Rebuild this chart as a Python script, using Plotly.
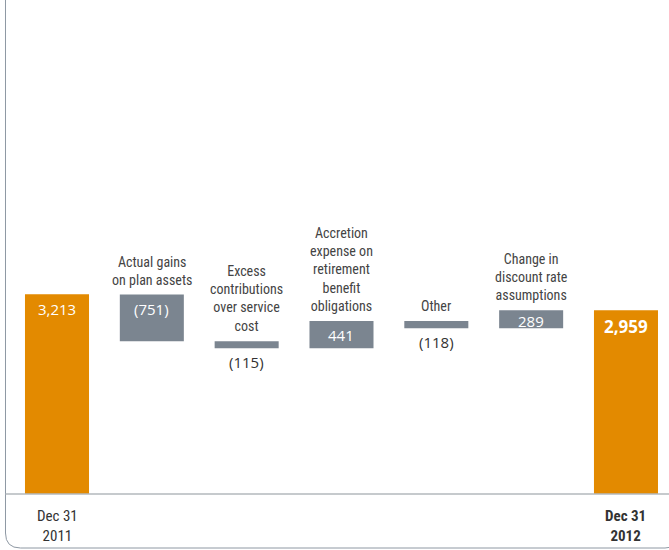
import plotly.graph_objects as go

# ---- data ----
categories = ["Dec 31 2011", "Actual gains on plan assets", "Excess contributions over service cost",
              "Accretion expense on retirement benefit obligations", "Other",
              "Change in discount rate assumptions", "Dec 31 2012"]
values = [3213, -751, -115, 441, -118, 289, 2959]
measures = ["absolute", "relative", "relative", "relative", "relative", "relative", "total"]
value_labels = ["3,213", "(751)", "(115)", "441", "(118)", "289", "2,959"]
category_labels = ["", "Actual gains<br>on plan assets", "Excess<br>contributions<br>over service<br>cost",
                   "Accretion<br>expense on<br>retirement<br>benefit<br>obligations", "Other",
                   "Change in<br>discount rate<br>assumptions", ""]
tick_labels = ["Dec 31<br>2011", "", "", "", "", "", "<b>Dec 31<br>2012</b>"]

W, H = 669, 550
ORANGE = "#E38A00"
GRAY = "#7B8590"
NARROW = "Roboto Condensed, sans-serif"
WIDE = "Open Sans, Noto Sans, sans-serif"

xs = list(range(len(categories)))

# compute bar extents from data
tops, bottoms = [], []
run = 0
for v, m in zip(values, measures):
    if m == "absolute":
        run = v
        tops.append(v); bottoms.append(0)
    elif m == "total":
        tops.append(run); bottoms.append(0)
    else:
        start = run
        run += v
        tops.append(max(start, run)); bottoms.append(min(start, run))

fig = go.Figure(go.Waterfall(
    x=xs, y=values, measure=measures,
    width=0.675,
    increasing=dict(marker=dict(color=GRAY)),
    decreasing=dict(marker=dict(color=GRAY)),
    totals=dict(marker=dict(color=ORANGE, line=dict(width=0))),
    connector=dict(visible=False),
    hoverinfo="skip",
))

# first bar (opening balance) drawn orange too
fig.add_trace(go.Bar(x=[xs[0]], y=[values[0]], width=0.675,
                     marker=dict(color=ORANGE, line=dict(width=0)), hoverinfo="skip"))

annotations = []
for i in xs:
    lab = value_labels[i]
    h = tops[i] - bottoms[i]
    if i == 0:
        annotations.append(dict(x=i, y=tops[i], text=lab, yanchor="top", yshift=-2, showarrow=False,
                                font=dict(family=WIDE, size=15, color="white")))
    elif i == len(xs) - 1:
        annotations.append(dict(x=i, y=tops[i], text="<b>%s</b>" % lab, yanchor="top", yshift=-3,
                                showarrow=False, font=dict(family=WIDE, size=17, color="white")))
    elif h > 250:
        annotations.append(dict(x=i, y=tops[i], text=lab, yanchor="top", yshift=-2 if h > 400 else 1,
                                showarrow=False, font=dict(family=WIDE, size=15, color="white")))
    else:
        annotations.append(dict(x=i, y=bottoms[i], text=lab, yanchor="top", yshift=-2,
                                showarrow=False, font=dict(family=WIDE, size=15, color="#333333")))
    if category_labels[i]:
        annotations.append(dict(x=i, y=tops[i], text=category_labels[i], yanchor="bottom", yshift=5,
                                showarrow=False, align="center",
                                font=dict(family=NARROW, size=14, color="#444444")))
    if tick_labels[i]:
        annotations.append(dict(x=i, y=0, text=tick_labels[i], yanchor="top", yshift=-11,
                                showarrow=False, align="center",
                                font=dict(family=NARROW, size=15, color="#333333")))

k = 3213 / 199.5
y_base_px = 494
yrange = [-(H - y_base_px) * k, y_base_px * k]
cx0, step = 57, 94.83
xrange = [-cx0 / step, (W - cx0) / step]

def px(xp):
    return xp / W

def py(yp):
    return 1 - yp / H

frame_path = ("M %f %f L %f %f Q %f %f %f %f L %f %f Q %f %f %f %f L %f %f" % (
    px(5.5), py(-5), px(5.5), py(533), px(5.5), py(548), px(20.5), py(548),
    px(665), py(548), px(680), py(548), px(680), py(533), px(680), py(-5)))

shapes = [
    dict(type="path", xref="paper", yref="paper", path=frame_path,
         line=dict(color="#8E98A3", width=1)),
    dict(type="line", xref="paper", yref="y", x0=px(5.5), x1=1, y0=0, y1=0,
         line=dict(color="#B3B8BD", width=1.5), layer="above"),
]

fig.update_layout(
    width=W, height=H,
    margin=dict(l=0, r=0, t=0, b=0),
    paper_bgcolor="white", plot_bgcolor="white",
    showlegend=False,
    barmode="overlay",
    xaxis=dict(range=xrange, visible=False, fixedrange=True),
    yaxis=dict(range=yrange, visible=False, fixedrange=True),
    annotations=annotations,
    shapes=shapes,
)

fig.write_html("out.html", config={"displayModeBar": False},
               post_script="document.body.style.margin='0';")
